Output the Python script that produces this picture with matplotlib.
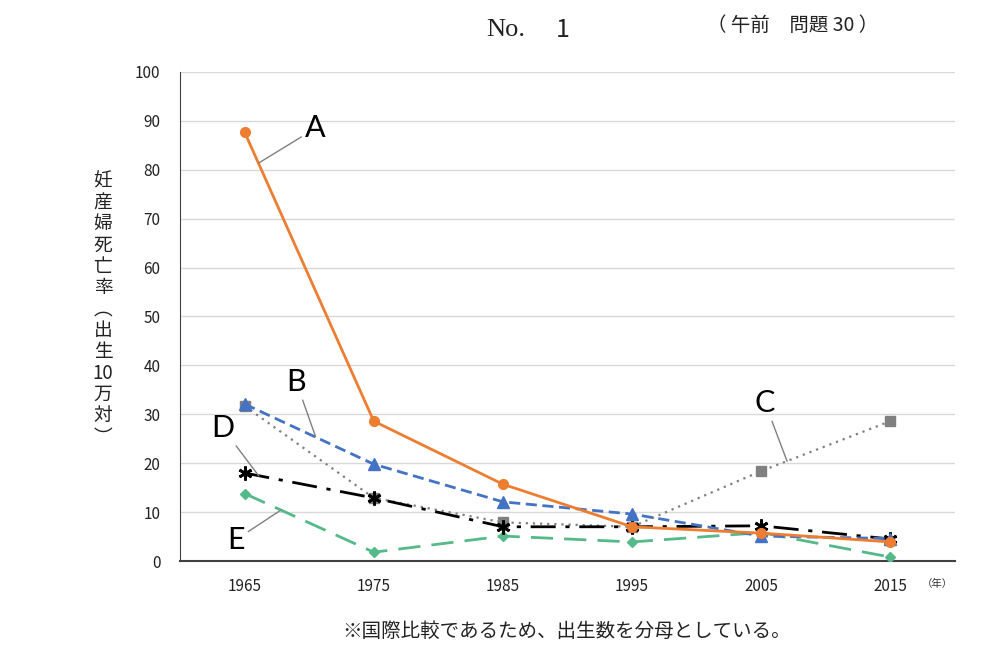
import matplotlib.pyplot as plt
import numpy as np

plt.rcParams['font.family'] = ['Noto Sans CJK JP', 'DejaVu Sans']

years = ['1965', '1975', '1985', '1995', '2005', '2015']
a_vals = [87.7, 28.6, 15.7, 7.0, 5.7, 3.9]
b_vals = [32.1, 19.8, 12.1, 9.6, 5.1, 4.6]
c_vals = [31.7, 12.9, 7.9, 7.0, 18.4, 28.6]
d_vals = [18.0, 12.9, 7.0, 7.0, 7.2, 4.5]
e_vals = [13.8, 1.8, 5.1, 3.9, 5.8, 0.8]

x = np.arange(len(years))

fig = plt.figure(figsize=(10, 6.58), dpi=100)
ax = fig.add_axes([0.18, 0.1474, 0.775, 0.7432])

# series (Excel-like styling)
ax.plot(x, c_vals, color='#808080', linestyle=(0, (1, 2.2)), linewidth=1.6,
        marker='s', markersize=7, zorder=3)
ax.plot(x, e_vals, color='#55B98A', linestyle=(0, (8, 4)), linewidth=2,
        marker='D', markersize=5.5, zorder=4)
ax.plot(x, d_vals, color='black', linestyle=(0, (9, 3.5, 1.5, 3.5)), linewidth=2,
        marker=(6, 2, 0), markersize=10, markeredgewidth=2, zorder=5)
ax.plot(x, b_vals, color='#4472C4', linestyle=(0, (4, 2)), linewidth=2,
        marker='^', markersize=8, zorder=6)
ax.plot(x, a_vals, color='#ED7D31', linestyle='-', linewidth=2,
        marker='o', markersize=7, zorder=7)

# series labels with leader lines
labels = [('A', (0.55, 88.5), (0.11, 81.4)),
          ('B', (0.40, 36.6), (0.55, 25.4)),
          ('C', (4.03, 32.3), (4.20, 20.4)),
          ('D', (-0.17, 27.2), (0.11, 17.4)),
          ('E', (-0.07, 4.3), (0.28, 10.4))]
for name, txt, pt in labels:
    ax.annotate(name, xy=pt, xytext=txt, textcoords='data', fontsize=22,
                family='Lato', ha='center', va='center',
                arrowprops=dict(arrowstyle='-', color='#808080', lw=1,
                                shrinkA=1, shrinkB=0), zorder=8)

ax.set_xlim(-0.5, 5.5)
ax.set_ylim(0, 100)
ax.set_yticks(np.arange(0, 101, 10))
ax.set_xticks(x)
ax.set_xticklabels(years)
ax.tick_params(axis='both', length=0, labelsize=11, pad=12, colors='#222222')
ax.tick_params(axis='y', pad=14)
ax.grid(axis='y', color='#D9D9D9', linewidth=1)
ax.set_axisbelow(True)
for s in ['top', 'right']:
    ax.spines[s].set_visible(False)
ax.spines['left'].set_color('#404040')
ax.spines['bottom'].set_color('#404040')
ax.spines['bottom'].set_linewidth(1.5)

# vertical y label
ylab = '\n'.join(['妊', '産', '婦', '死', '亡', '率', '︵', '出', '生', '10', '万', '対', '︶'])
fig.text(0.103, 0.530, ylab, fontsize=13.5, ha='center', va='center',
         linespacing=1.02, color='#222222')

fig.text(0.937, 0.113, '（年）', fontsize=7.5, ha='center', va='center', color='#333333')

fig.text(0.525, 0.955, 'No.', family='Liberation Serif', fontsize=19,
         ha='right', va='center', color='#222222')
fig.text(0.563, 0.955, '1', fontsize=18, ha='center',
         va='center', color='#222222')
fig.text(0.793, 0.962, '（ 午前　問題 30 ）', fontsize=14, ha='center',
         va='center', color='#222222')

fig.text(0.567, 0.04, '※国際比較であるため、出生数を分母としている。', fontsize=14,
         ha='center', va='center', color='#222222')

fig.savefig('out.png', dpi=100, facecolor='white')
